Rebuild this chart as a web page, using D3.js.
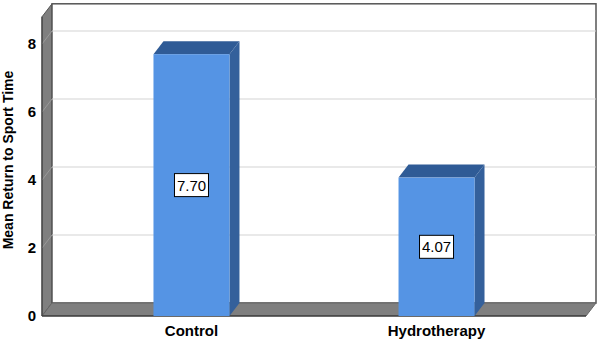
<!DOCTYPE html>
<html lang="en">
<head>
<meta charset="UTF-8">
<title>Mean Return to Sport Time</title>
<script src="https://d3js.org/d3.v7.min.js"></script>
<style>
    body { margin: 0; background: #fff; }
    text { font-family: "Liberation Sans", Arial, sans-serif; }
    .tick-label { font-size: 15px; font-weight: bold; fill: #000; }
    .axis-title { font-size: 14px; font-weight: bold; }
    .value-label { font-size: 15px; }
</style>
</head>
<body>
<svg id="chart" width="597" height="340"></svg>
<script>
const categories = ["Control", "Hydrotherapy"];
const means = [7.70, 4.07];
const yTicks = [0, 2, 4, 6, 8];
const yTitle = "Mean Return to Sport Time";

const width = 597, height = 340;
const dx = 10, dy = 13;            // depth offset front -> back
const plotLeft = 42, plotRight = 586, plotBottom = 316, plotTop = 16.8;
const barW = 76;

const svg = d3.select("#chart");

const y = d3.scaleLinear().domain([0, 8.8]).range([plotBottom, plotTop]);
const x = d3.scalePoint().domain(categories).range([plotLeft, plotRight]).padding(0.61);

const line = d3.line();

// left side wall
svg.append("path")
    .attr("d", line([[plotLeft, y(8.8)], [plotLeft + dx, y(8.8) - dy], [plotLeft + dx, plotBottom - dy], [plotLeft, plotBottom]]) + "Z")
    .attr("fill", "#7f7f7f")
    .attr("stroke", "#555").attr("stroke-width", 1);

// back wall
svg.append("rect")
    .attr("x", plotLeft + dx).attr("y", y(8.8) - dy)
    .attr("width", plotRight - plotLeft).attr("height", plotBottom - y(8.8))
    .attr("fill", "#fff")
    .attr("stroke", "#555").attr("stroke-width", 1.5);

// gridlines
yTicks.filter(d => d > 0).forEach(v => {
    svg.append("line")
        .attr("x1", plotLeft + dx).attr("x2", plotRight + dx)
        .attr("y1", y(v) - dy).attr("y2", y(v) - dy)
        .attr("stroke", "#d4d4d4").attr("stroke-width", 1.2);
    svg.append("line")
        .attr("x1", plotLeft).attr("y1", y(v))
        .attr("x2", plotLeft + dx).attr("y2", y(v) - dy)
        .attr("stroke", "#9a9a9a").attr("stroke-width", 1);
});

// floor
svg.append("path")
    .attr("d", line([[plotLeft, plotBottom], [plotLeft + dx, plotBottom - dy], [plotRight + dx, plotBottom - dy], [plotRight, plotBottom]]) + "Z")
    .attr("fill", "#7f7f7f")
    .attr("stroke", "#666").attr("stroke-width", 1);
svg.append("line")
    .attr("x1", plotLeft).attr("x2", plotRight)
    .attr("y1", plotBottom).attr("y2", plotBottom)
    .attr("stroke", "#222").attr("stroke-width", 1.2);
svg.append("line")
    .attr("x1", plotLeft).attr("x2", plotLeft)
    .attr("y1", y(8.8)).attr("y2", plotBottom)
    .attr("stroke", "#444").attr("stroke-width", 1.2);

// bars
const bars = svg.selectAll(".bar")
    .data(categories.map((c, i) => ({ cat: c, value: means[i] })))
    .join("g").attr("class", "bar");

bars.append("path")
    .attr("d", d => {
        const x0 = x(d.cat) - barW / 2, x1 = x(d.cat) + barW / 2, yt = y(d.value);
        return line([[x0, yt], [x0 + dx, yt - dy], [x1 + dx, yt - dy], [x1, yt]]) + "Z";
    })
    .attr("fill", "#2f5b96");

bars.append("path")
    .attr("d", d => {
        const x1 = x(d.cat) + barW / 2, yt = y(d.value);
        return line([[x1, yt], [x1 + dx, yt - dy], [x1 + dx, plotBottom - dy], [x1, plotBottom]]) + "Z";
    })
    .attr("fill", "#34609b");

bars.append("rect")
    .attr("x", d => x(d.cat) - barW / 2)
    .attr("y", d => y(d.value))
    .attr("width", barW)
    .attr("height", d => plotBottom - y(d.value))
    .attr("fill", "#5594e4");

// value labels
const lab = bars.append("g")
    .attr("transform", d => `translate(${x(d.cat)},${(y(d.value) + plotBottom) / 2})`);
lab.append("rect")
    .attr("x", -17).attr("y", -11.5).attr("width", 34).attr("height", 23)
    .attr("fill", "#fff").attr("stroke", "#000").attr("stroke-width", 1);
lab.append("text")
    .attr("class", "value-label")
    .attr("text-anchor", "middle")
    .attr("dy", "0.36em")
    .text(d => d.value.toFixed(2));

// y axis
const yAxis = svg.append("g")
    .attr("transform", `translate(${plotLeft},0)`)
    .call(d3.axisLeft(y).tickValues(yTicks).tickSize(0).tickPadding(6).tickFormat(d3.format("d")));
yAxis.select(".domain").remove();
yAxis.selectAll("text")
    .attr("class", "tick-label")
    .attr("font-family", null).attr("font-size", null);

// x labels
svg.selectAll(".x-label")
    .data(categories)
    .join("text")
    .attr("class", "tick-label")
    .attr("x", d => x(d))
    .attr("y", 336)
    .attr("text-anchor", "middle")
    .text(d => d);

// y title
svg.append("text")
    .attr("class", "axis-title")
    .attr("transform", "translate(13,160) rotate(-90)")
    .attr("text-anchor", "middle")
    .text(yTitle);
</script>
</body>
</html>
